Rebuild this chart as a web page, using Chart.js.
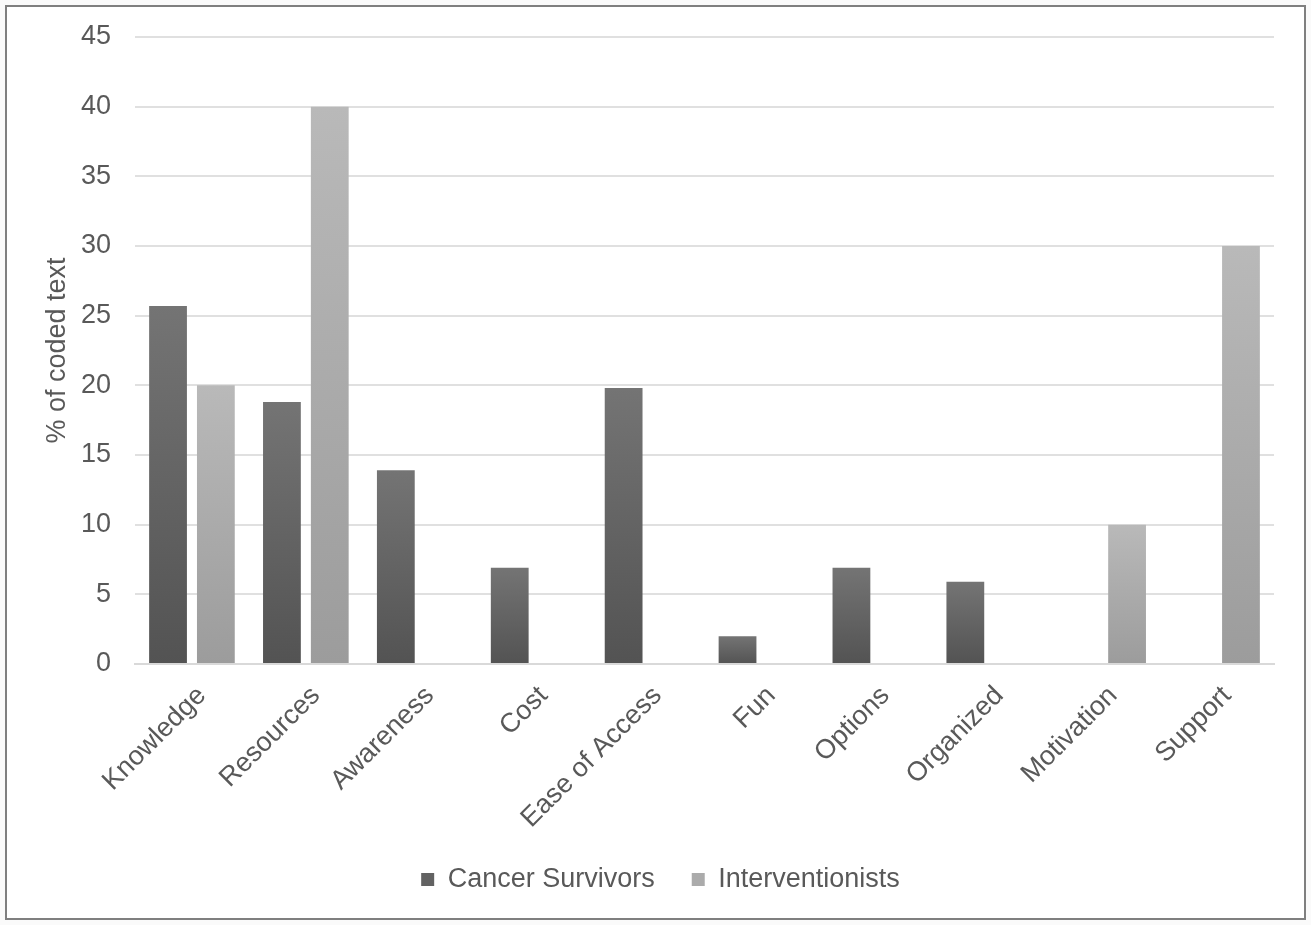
<!DOCTYPE html>
<html>
<head>
<meta charset="utf-8">
<script src="https://cdn.jsdelivr.net/npm/chart.js@4"></script>
<style>
    body { margin: 0; background: #fafafa; }
    #frame {
        position: absolute;
        left: 5px;
        top: 5px;
        width: 1297px;
        height: 911px;
        border: 2px solid #7f7f7f;
        background: #ffffff;
    }
</style>
</head>
<body>
<div id="frame"><canvas id="barChart" width="1297" height="911"></canvas></div>
<script>
// Data
const categories = ['Knowledge', 'Resources', 'Awareness', 'Cost', 'Ease of Access', 'Fun', 'Options', 'Organized', 'Motivation', 'Support'];
const cancerSurvivors = [25.7, 18.8, 13.9, 6.9, 19.8, 2.0, 6.9, 5.9, null, null];
const interventionists = [20, 40, null, null, null, null, null, null, 10, 30];
const yTicks = [0, 5, 10, 15, 20, 25, 30, 35, 40, 45];

const textColor = '#595959';
const fontFamily = "'Liberation Sans', Arial, sans-serif";

// Vertical gradient per bar, like the Excel fill
function barFill(topColor, bottomColor) {
    return function (ctx) {
        const chart = ctx.chart;
        if (!chart.chartArea || ctx.raw == null) return bottomColor;
        const y = chart.scales.y;
        const top = y.getPixelForValue(ctx.raw);
        const bottom = y.getPixelForValue(0);
        if (bottom - top < 1) return bottomColor;
        const g = chart.ctx.createLinearGradient(0, top, 0, bottom);
        g.addColorStop(0, topColor);
        g.addColorStop(1, bottomColor);
        return g;
    };
}

// Nudge the legend a little to the right, to sit where Excel puts it
const legendShift = {
    id: 'legendShift',
    afterLayout: function (chart) {
        if (chart.legend) {
            chart.legend.left += 20;
            chart.legend.right += 20;
        }
    }
};

const ctx = document.getElementById('barChart').getContext('2d');
const chart = new Chart(ctx, {
    type: 'bar',
    data: {
        labels: categories,
        datasets: [{
            label: 'Cancer Survivors',
            data: cancerSurvivors,
            backgroundColor: barFill('#747474', '#535353'),
            borderWidth: 0
        }, {
            label: 'Interventionists',
            data: interventionists,
            backgroundColor: barFill('#b9b9b9', '#9c9c9c'),
            borderWidth: 0
        }]
    },
    plugins: [legendShift],
    options: {
        responsive: false,
        animation: false,
        barPercentage: 0.79,
        categoryPercentage: 0.84,
        layout: {
            padding: { top: 0, right: 30, bottom: 15, left: 0 }
        },
        plugins: {
            tooltip: { enabled: false },
            legend: {
                position: 'bottom',
                labels: {
                    color: textColor,
                    font: { family: fontFamily, size: 27 },
                    boxWidth: 13,
                    boxHeight: 13,
                    padding: 37,
                    generateLabels: function (chart) {
                        const fills = ['#626262', '#ababab'];
                        return chart.data.datasets.map((ds, i) => ({
                            text: ds.label,
                            fillStyle: fills[i],
                            strokeStyle: fills[i],
                            lineWidth: 0,
                            datasetIndex: i,
                            fontColor: textColor
                        }));
                    }
                }
            }
        },
        scales: {
            x: {
                grid: { display: false },
                border: { display: true, color: '#d9d9d9', width: 2 },
                ticks: {
                    color: textColor,
                    font: { family: fontFamily, size: 27 },
                    minRotation: 45,
                    maxRotation: 45,
                    padding: 8,
                    labelOffset: 10
                },
                afterFit: function (scale) { scale.height = 165; }
            },
            y: {
                min: 0,
                max: 45,
                afterBuildTicks: function (scale) {
                    scale.ticks = yTicks.map(v => ({ value: v }));
                },
                afterFit: function (scale) {
                    scale.width = 128;
                    scale.paddingTop = 30;
                },
                grid: { color: '#e0e0e0', lineWidth: 2, drawTicks: false },
                border: { display: false },
                ticks: {
                    color: textColor,
                    font: { family: fontFamily, size: 27 },
                    padding: 24
                },
                title: {
                    display: true,
                    text: '% of coded text',
                    color: textColor,
                    font: { family: fontFamily, size: 27 },
                    padding: { top: 34, bottom: 0 }
                }
            }
        }
    }
});
</script>
</body>
</html>
